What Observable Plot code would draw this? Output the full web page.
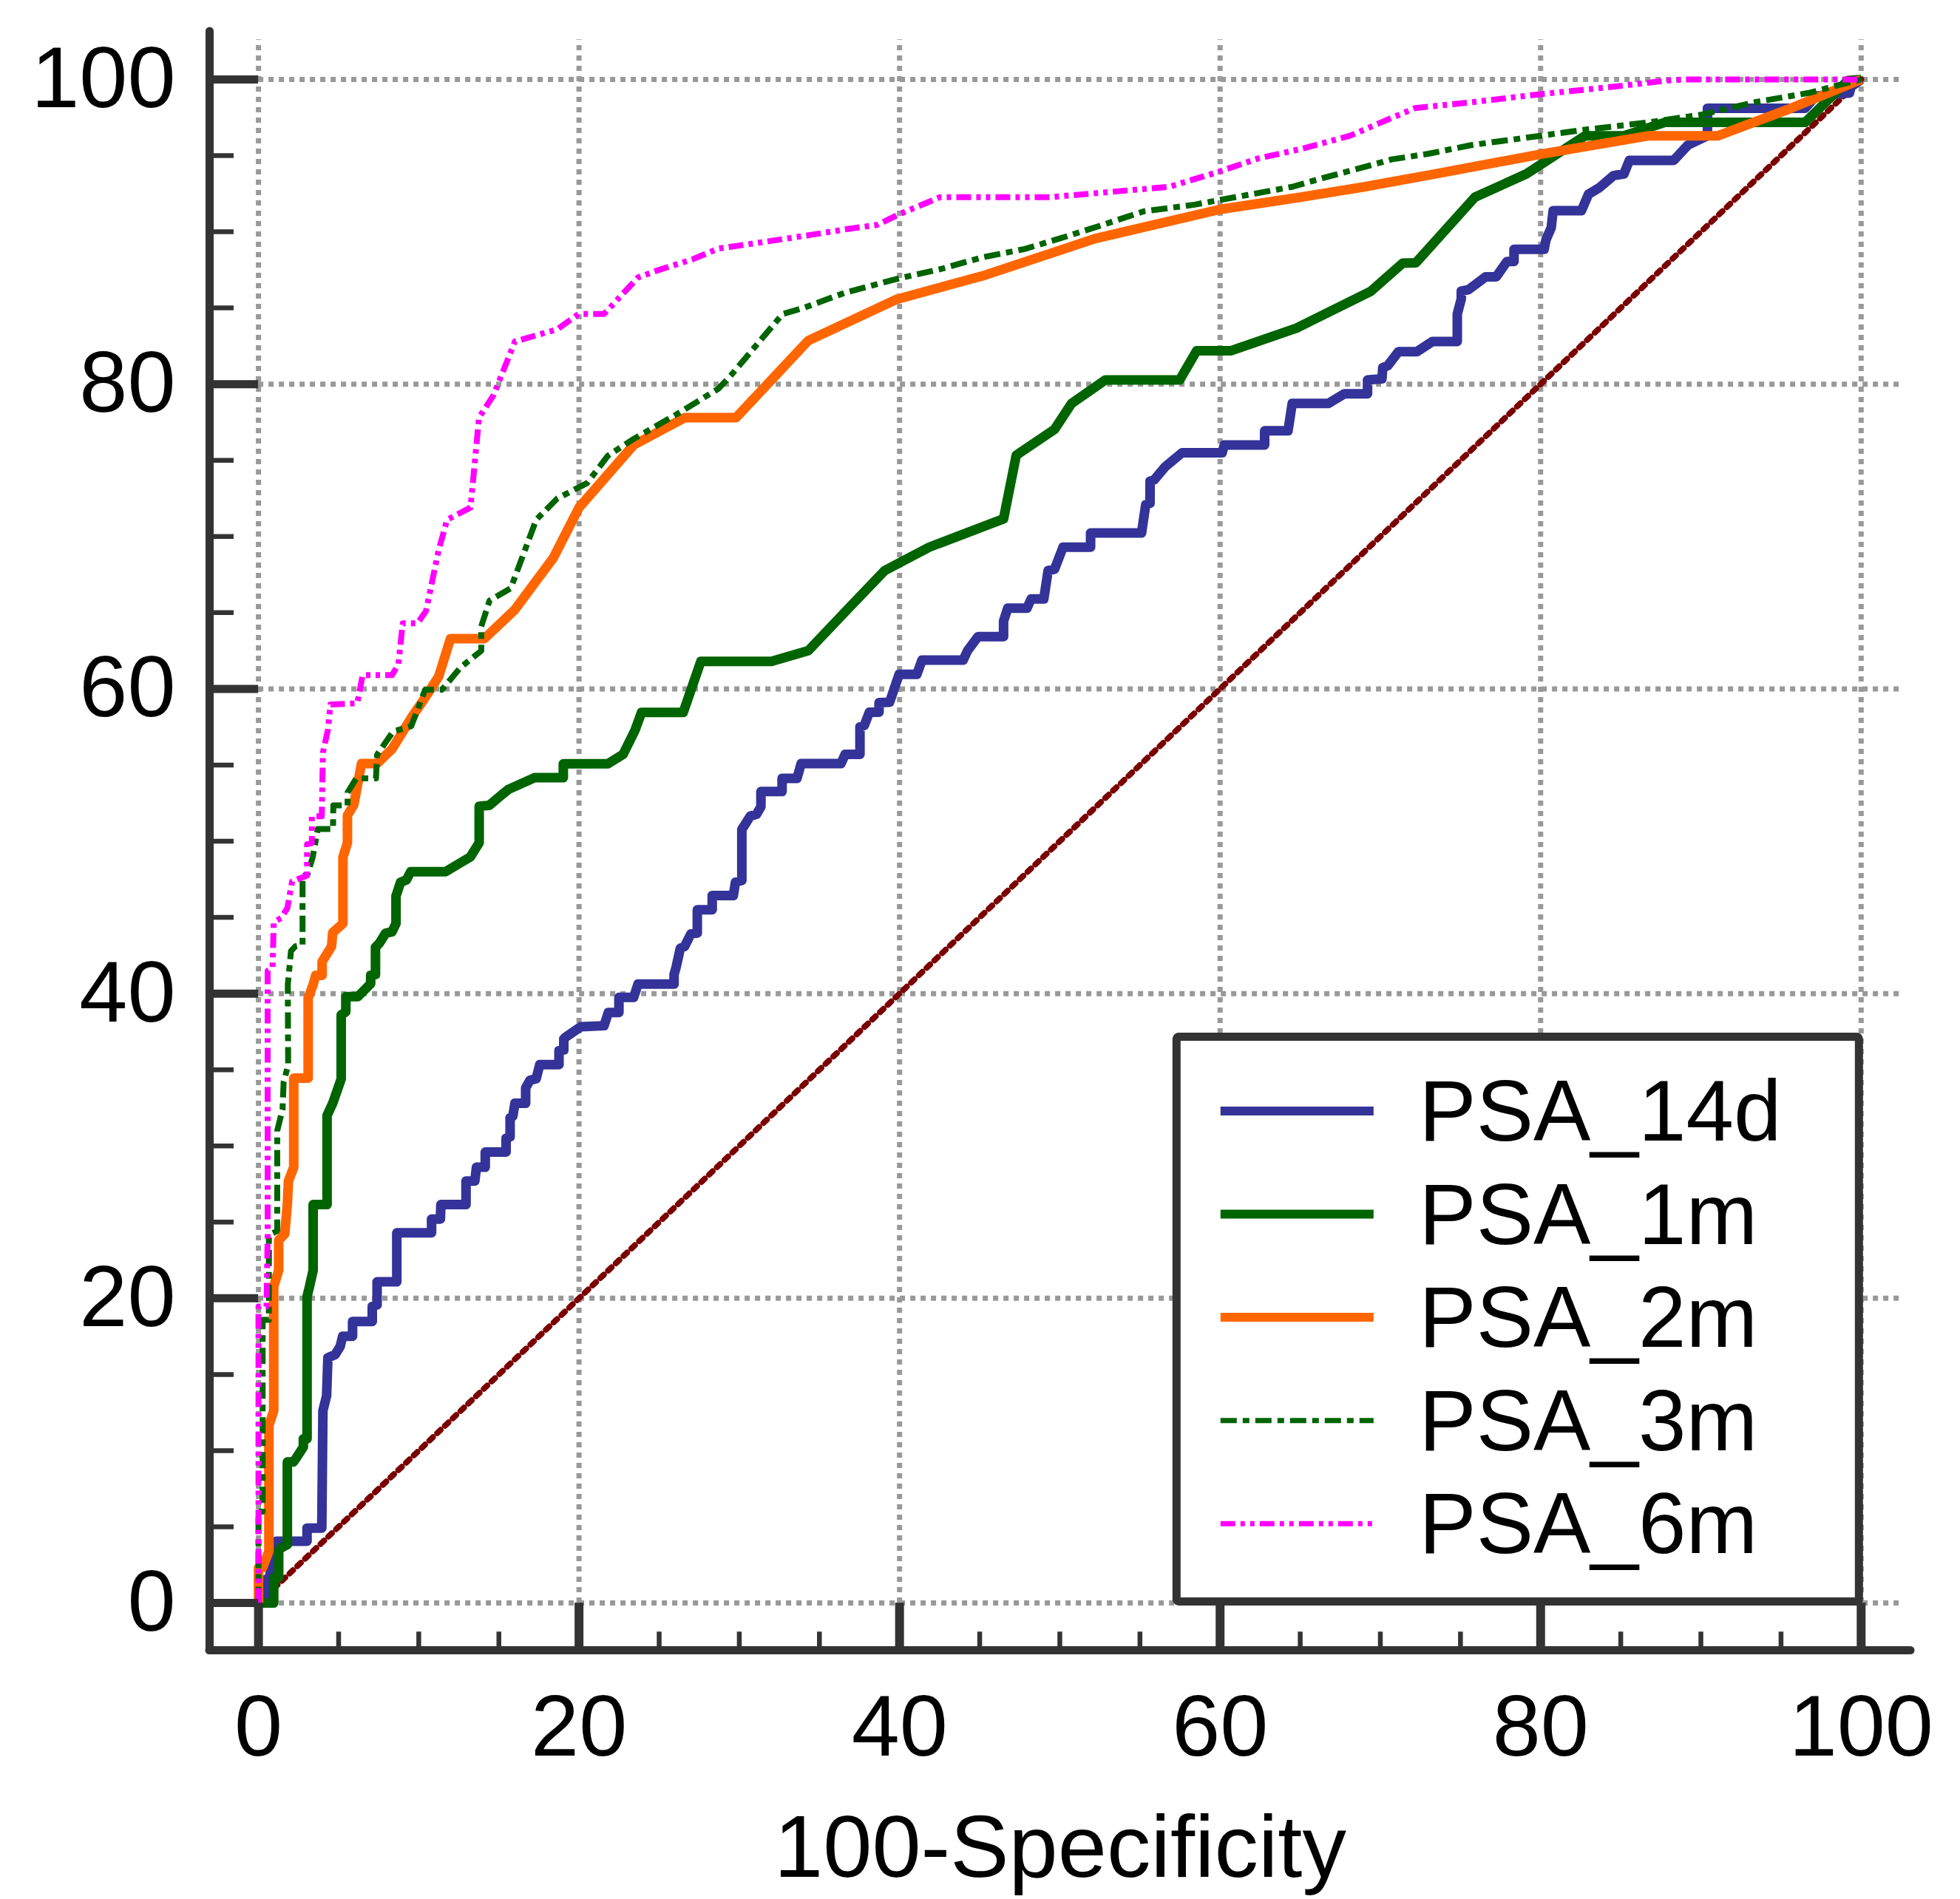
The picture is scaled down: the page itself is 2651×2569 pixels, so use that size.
<!DOCTYPE html>
<html><head><meta charset="utf-8">
<script src="https://cdn.jsdelivr.net/npm/d3@7"></script>
<script src="https://cdn.jsdelivr.net/npm/@observablehq/plot@0.6"></script>
<style>body{margin:0;background:#fff}</style>
</head><body><div id="chart"></div>
<script>
// ---------- data ----------
const xTicks = [0, 20, 40, 60, 80, 100];
const yTicks = [0, 20, 40, 60, 80, 100];
const minorTicks = [5, 10, 15, 25, 30, 35, 45, 50, 55, 65, 70, 75, 85, 90, 95];
const xTitle = "100-Specificity";
const seriesNames = ["PSA_14d", "PSA_1m", "PSA_2m", "PSA_3m", "PSA_6m"];
const diagonal = [[0, 0], [100, 100]];

const psa14d = [[0,0],[0.49,0],[0.49,1.56],[0.72,1.67],[0.8,3.62],[1.1,4.06],[3.03,4.06],[3.03,4.92],[3.95,4.92],[4.02,12.62],[4.25,13.6],[4.33,16.1],[4.79,16.31],[5.1,16.85],[5.25,17.51],[5.87,17.51],[5.87,18.48],[7.1,18.48],[7.1,19.46],[7.4,19.57],[7.4,21.08],[8.63,21.08],[8.63,24.3],[10.8,24.3],[10.8,25.2],[11.35,25.2],[11.38,26.15],[12.95,26.15],[12.95,27.7],[13.5,27.7],[13.6,28.6],[14.15,28.6],[14.15,29.6],[15.45,29.6],[15.45,30.5],[15.7,30.6],[15.7,31.85],[15.87,31.95],[16.0,32.8],[16.67,32.8],[16.67,33.8],[16.93,34.3],[17.33,34.42],[17.55,35.34],[18.75,35.34],[18.75,36.25],[19.05,36.3],[19.05,37.03],[19.18,37.15],[20.1,37.82],[21.56,37.89],[21.83,38.76],[22.49,38.76],[22.49,39.75],[23.41,39.75],[23.68,40.62],[25.93,40.62],[25.93,41.24],[26.06,41.74],[26.32,42.97],[26.59,43.1],[26.98,43.92],[27.38,43.97],[27.38,45.5],[28.31,45.5],[28.31,46.44],[29.63,46.44],[29.76,47.31],[30.16,47.43],[30.16,50.78],[30.69,51.65],[31.08,51.77],[31.35,52.27],[31.35,53.26],[32.67,53.26],[32.67,54.13],[33.6,54.13],[33.86,55.1],[36.35,55.1],[36.6,55.7],[37.53,55.7],[37.53,57.5],[37.8,57.6],[38.12,58.47],[38.72,58.47],[38.72,59.1],[39.38,59.12],[39.97,60.95],[41.08,60.95],[41.4,61.89],[43.97,61.89],[44.24,62.5],[44.9,63.43],[46.49,63.43],[46.49,64.45],[46.75,65.29],[47.95,65.29],[48.21,65.9],[49.0,65.9],[49.27,67.76],[49.67,67.85],[50.2,69.3],[51.92,69.3],[51.92,70.23],[55.1,70.23],[55.36,72.09],[55.63,72.18],[55.63,73.63],[55.89,73.72],[56.56,74.56],[57.62,75.49],[60.13,75.49],[60.26,76.01],[62.78,76.01],[62.78,76.94],[64.24,76.94],[64.5,78.73],[66.75,78.73],[67.76,79.37],[69.2,79.37],[69.2,80.27],[70.1,80.35],[70.15,81.08],[70.46,81.21],[71.13,82.13],[72.28,82.13],[73.25,82.8],[74.8,82.8],[74.8,84.6],[75.05,85.6],[75.05,86.1],[75.5,86.2],[76.57,87.04],[77.23,87.04],[77.9,88.05],[78.34,88.05],[78.34,88.85],[80.22,88.85],[80.33,89.46],[80.66,90.26],[80.78,91.39],[82.55,91.39],[82.99,92.47],[83.65,92.88],[84.54,93.68],[85.2,93.8],[85.54,94.69],[88.31,94.69],[89.19,95.69],[90.41,96.3],[90.41,98.11],[96.5,98.11],[97.17,98.91],[99.27,99.11],[99.38,99.52],[100,100]];

const psa1m = [[0,0],[0.95,0],[0.95,1.67],[1.26,1.67],[1.26,3.4],[1.41,3.62],[1.8,3.84],[1.8,9.26],[2.18,9.26],[2.33,9.48],[2.8,10.24],[2.8,10.78],[3.03,10.78],[3.03,20.11],[3.18,20.76],[3.41,21.84],[3.41,26.15],[4.28,26.15],[4.28,32.0],[4.63,32.8],[5.16,34.4],[5.16,38.6],[5.45,38.8],[5.45,39.8],[6.2,39.8],[7.0,40.65],[7.0,41.2],[7.3,41.25],[7.3,43.05],[7.54,43.3],[7.94,43.97],[8.33,44.05],[8.58,44.6],[8.58,46.4],[8.86,47.3],[9.22,47.45],[9.5,48.0],[11.67,48.0],[13.22,48.97],[13.77,49.9],[13.77,52.3],[14.4,52.35],[15.3,53.15],[15.6,53.4],[17.22,54.17],[19.02,54.17],[19.02,55.08],[21.8,55.08],[22.75,55.7],[23.5,57.3],[23.9,58.45],[26.5,58.45],[27.6,61.8],[32.0,61.8],[34.3,62.5],[36.82,65.29],[39.07,67.76],[41.85,69.3],[46.49,71.16],[47.28,75.33],[49.67,77.03],[50.73,78.73],[52.85,80.28],[57.48,80.28],[58.54,82.19],[60.66,82.19],[64.77,83.68],[69.4,86.09],[71.39,87.94],[72.22,87.97],[75.9,92.27],[79.11,93.8],[82.77,96.3],[85.2,96.3],[87.75,97.18],[96.5,97.18],[99.16,99.92],[100,100]];

const psa2m = [[0,0],[0,2.32],[0.26,2.32],[0.65,3.4],[0.65,11.65],[0.95,12.62],[0.95,20.76],[1.26,21.84],[1.26,23.8],[1.64,24.23],[1.8,26.18],[1.87,27.7],[2.2,28.6],[2.2,34.45],[3.1,34.45],[3.1,39.7],[3.41,40.59],[3.57,41.2],[3.97,41.2],[3.97,42.1],[4.56,43.1],[4.63,44.0],[5.27,44.6],[5.27,48.95],[5.55,49.9],[5.55,51.7],[5.95,52.4],[6.43,55.1],[7.4,55.1],[8.33,56.05],[9.66,58.3],[10.19,59.1],[11.24,60.8],[11.98,63.3],[14.1,63.3],[16.0,65.2],[18.4,68.6],[20.0,71.9],[23.4,76.0],[26.6,77.8],[29.8,77.8],[34.3,82.85],[39.77,85.55],[45.17,87.1],[52.19,89.55],[60.0,91.47],[65.03,92.27],[69.0,92.95],[73.47,93.8],[80.0,95.09],[86.76,96.3],[91.07,96.3],[95.61,98.1],[100,100]];

const psa3m = [[0,0],[0,6.0],[0.26,6.0],[0.26,18.59],[0.65,18.59],[0.65,24.0],[0.8,24.23],[1.17,24.42],[1.17,31.0],[1.5,32.4],[1.57,34.2],[1.85,35.3],[1.83,40.6],[2.03,42.8],[2.3,43.1],[2.75,43.2],[2.75,47.72],[3.05,47.8],[3.38,48.93],[3.7,50.8],[4.65,50.8],[4.67,52.35],[5.56,52.35],[5.56,53.2],[6.1,54.12],[7.33,54.12],[7.4,55.68],[8.4,57.2],[9.53,57.55],[10.4,59.95],[11.45,59.95],[12.6,61.4],[13.9,62.5],[13.9,64.1],[14.42,65.8],[15.74,66.6],[17.33,71.1],[18.65,72.5],[20.5,73.5],[21.8,75.3],[23.4,76.4],[26.06,78.0],[28.7,79.7],[29.5,80.6],[32.7,84.6],[34.0,85.0],[36.6,86.0],[39.87,86.92],[42.52,87.54],[45.17,88.32],[47.81,88.87],[50.46,89.71],[52.58,90.42],[55.23,91.34],[58.41,91.78],[60.0,92.09],[64.5,92.95],[66.36,93.51],[69.0,94.25],[70.7,94.75],[73.0,95.12],[75.68,95.69],[80.0,96.3],[82.77,96.7],[86.76,97.18],[90.08,97.7],[93.4,98.51],[96.72,99.11],[98.94,99.72],[100,100]];

const psa6m = [[0,0],[0,19.46],[0.5,19.46],[0.57,24.0],[0.57,41.5],[0.88,41.7],[0.95,44.68],[1.41,44.96],[1.8,45.61],[2.1,47.37],[3.03,47.74],[3.03,49.8],[3.33,49.88],[3.33,51.64],[3.95,51.64],[4.02,55.82],[4.33,57.3],[4.49,58.98],[6.16,59.05],[6.5,60.9],[8.33,60.9],[8.73,61.6],[9.0,64.3],[9.92,64.3],[10.45,65.1],[11.24,69.1],[11.77,71.1],[13.23,71.9],[13.76,77.8],[14.68,79.3],[16.0,82.8],[18.65,83.6],[19.97,84.6],[21.56,84.6],[23.68,87.0],[25.0,87.5],[27.1,88.2],[28.7,88.9],[31.35,89.3],[34.5,89.8],[36.69,90.17],[38.6,90.45],[39.87,91.1],[42.52,92.27],[49.4,92.27],[51.79,92.49],[56.82,92.95],[59.74,93.88],[62.38,94.81],[65.03,95.43],[68.1,96.3],[70.1,97.2],[72.17,98.12],[75.68,98.5],[80.0,99.03],[84.54,99.52],[87.86,99.92],[89.0,100],[100,100]];

const seriesData = [psa14d, psa1m, psa2m, psa3m, psa6m];

// ---------- styles ----------
const seriesStyle = [
  {stroke: "#333399", strokeWidth: 13, dash: null},
  {stroke: "#006400", strokeWidth: 13, dash: null},
  {stroke: "#ff6600", strokeWidth: 13, dash: null},
  {stroke: "#006400", strokeWidth: 8, dash: "22,8,9,8"},
  {stroke: "#ff00ff", strokeWidth: 8, dash: "20,7,6,7,6,7"}
];
const FONT = "'Liberation Sans', Arial, Helvetica, sans-serif";
const axisColor = "#333333";
const gridStyle = {stroke: "#999999", strokeWidth: 7, strokeDasharray: "7,7"};
const xMin = -3.05, xMax = 103.1, yMin = -3.1, yMax = 103.15, gridEnd = 102.6;

const lineMarks = seriesData.map((d, i) => Plot.line(d, {
  stroke: seriesStyle[i].stroke,
  strokeWidth: seriesStyle[i].strokeWidth,
  strokeDasharray: seriesStyle[i].dash ?? undefined,
  strokeLinejoin: "round",
  strokeLinecap: "butt"
}));

const chart = Plot.plot({
  width: 2651,
  height: 2569,
  marginLeft: 283,
  marginRight: 67,
  marginTop: 42,
  marginBottom: 337,
  style: {fontFamily: FONT, fontSize: "117px", color: "#000", background: "#fff"},
  x: {domain: [xMin, xMax]},
  y: {domain: [yMin, yMax]},
  marks: [
    Plot.ruleY(yTicks, {x1: 0, x2: gridEnd, ...gridStyle}),
    Plot.ruleX(xTicks, {y1: 0, y2: gridEnd, ...gridStyle}),
    Plot.line(diagonal, {stroke: "#7a0000", strokeWidth: 8, strokeDasharray: "6.5,8"}),
    ...lineMarks,
    // axis ticks
    Plot.ruleY(yTicks, {x1: xMin, x2: 0, stroke: axisColor, strokeWidth: 11}),
    Plot.ruleY(minorTicks, {x1: xMin, x2: xMin + 1.52, stroke: axisColor, strokeWidth: 6.5}),
    Plot.ruleX(xTicks, {y1: yMin, y2: 0, stroke: axisColor, strokeWidth: 12}),
    Plot.ruleX(minorTicks, {y1: yMin, y2: yMin + 1.2, stroke: axisColor, strokeWidth: 6.5}),
    // axis lines
    Plot.ruleX([xMin], {y1: yMin, y2: yMax, stroke: axisColor, strokeWidth: 11, strokeLinecap: "round"}),
    Plot.ruleY([yMin], {x1: xMin, x2: xMax, stroke: axisColor, strokeWidth: 11, strokeLinecap: "round"}),
    Plot.axisY(yTicks, {anchor: "left", tickSize: 0, tickPadding: 46, label: null, fontSize: 117, fill: "#000"}),
    Plot.axisX(xTicks, {anchor: "bottom", tickSize: 0, tickPadding: 59, label: null, fontSize: 117, fill: "#000"}),
    Plot.text([xTitle], {frameAnchor: "bottom", dy: 306, fontSize: 119, fill: "#000"})
  ]
});

// ---------- legend ----------
const sx = chart.scale("x"), sy = chart.scale("y");
const boxRight = sx.apply(100) - 2.5, boxBottom = sy.apply(0) - 1.5;
const boxW = 923, boxH = 764;
const boxLeft = boxRight - boxW, boxTop = boxBottom - boxH;
const svg = d3.select(chart);
const g = svg.append("g").attr("class", "legend").attr("text-anchor", "start");
g.append("rect").attr("x", boxLeft).attr("y", boxTop).attr("width", boxW).attr("height", boxH)
  .attr("fill", "#fff").attr("stroke", axisColor).attr("stroke-width", 11).attr("rx", 3);
const rowStart = boxTop + 100.3, rowStep = 139.6;
seriesNames.forEach((name, i) => {
  const yy = rowStart + i * rowStep;
  const st = seriesStyle[i];
  g.append("line").attr("x1", boxLeft + 59.5).attr("x2", boxLeft + 266.5).attr("y1", yy).attr("y2", yy)
    .attr("stroke", st.stroke).attr("stroke-width", st.dash ? 7 : 12)
    .attr("stroke-dasharray", st.dash);
  g.append("text").attr("x", boxLeft + 328).attr("y", yy + 40).attr("font-size", 116)
    .attr("text-anchor", "start")
    .attr("font-family", FONT).attr("fill", "#000").text(name);
});

document.getElementById("chart").appendChild(chart);
</script>
</body></html>
